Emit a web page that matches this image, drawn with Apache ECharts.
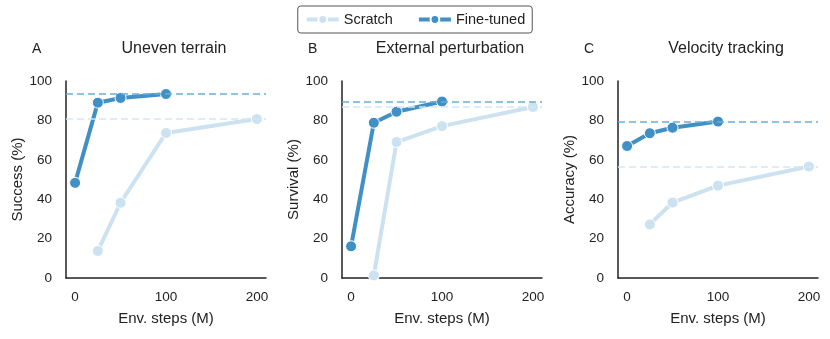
<!DOCTYPE html>
<html>
<head>
<meta charset="utf-8">
<script src="https://cdn.jsdelivr.net/npm/echarts@6/dist/echarts.min.js"></script>
<style>
  html, body { margin: 0; padding: 0; background: #fff; }
  #chart { width: 830px; height: 339px; }
</style>
</head>
<body>
<div id="chart"></div>
<script>
// env steps (M)
var steps = [0, 25, 50, 100, 200];

var panelLetters = ['A', 'B', 'C'];
var panelTitles = ['Uneven terrain', 'External perturbation', 'Velocity tracking'];
var yNames = ['Success (%)', 'Survival (%)', 'Accuracy (%)'];

// scratch: no value at 0
var scratchA = [null, 13.7, 38.2, 73.6, 80.7];
var scratchB = [null, 1.3, 69.0, 77.1, 86.8];
var scratchC = [null, 27.2, 38.3, 46.9, 56.6];
// fine-tuned: runs to 100M
var fineA = [48.3, 89.0, 91.4, 93.4, null];
var fineB = [16.1, 78.8, 84.4, 89.6, null];
var fineC = [67.0, 73.5, 76.3, 79.4, null];

var scratchBest = [80.7, 86.8, 56.6];
var fineBest = [93.4, 89.6, 79.4];

var FINE = '#4090c6';
var FINE_DASH = '#6aaed6';
var SCRATCH = '#cde2f0';
var SCRATCH_DASH = '#d4e6f2';
var FONT = 'Liberation Sans';

var chart = echarts.init(document.getElementById('chart'));

var lefts = [66, 342, 618];
var grids = [], xAxes = [], yAxes = [], series = [], titles = [];
var scratchData = [scratchA, scratchB, scratchC];
var fineData = [fineA, fineB, fineC];

function pairs(vals) {
  var out = [];
  for (var i = 0; i < steps.length; i++) {
    if (vals[i] != null) out.push([steps[i], vals[i]]);
  }
  return out;
}

for (var p = 0; p < 3; p++) {
  grids.push({ left: lefts[p], top: 81, width: 200, height: 197 });
  xAxes.push({
    gridIndex: p, type: 'value', min: -10, max: 210, interval: 100,
    name: 'Env. steps (M)', nameLocation: 'middle', nameGap: 33,
    nameTextStyle: { fontFamily: FONT, fontSize: 15, color: '#222' },
    axisLine: { onZero: false, lineStyle: { color: '#222', width: 1.5 } },
    axisTick: { show: false },
    splitLine: { show: false },
    axisLabel: {
      fontFamily: FONT, fontSize: 13.5, color: '#222', margin: 12,
      customValues: [0, 100, 200]
    }
  });
  yAxes.push({
    gridIndex: p, type: 'value', min: 0, max: 100, interval: 20,
    name: yNames[p], nameLocation: 'middle', nameGap: 39, nameRotate: 90,
    nameTextStyle: { fontFamily: FONT, fontSize: 15, color: '#222' },
    axisLine: { show: true, onZero: false, lineStyle: { color: '#222', width: 1.5 } },
    axisTick: { show: false },
    splitLine: { show: false },
    axisLabel: { fontFamily: FONT, fontSize: 13.5, color: '#222', margin: 14 }
  });
  titles.push({
    text: panelLetters[p], left: lefts[p] - 39, top: 37,
    textStyle: { fontFamily: FONT, fontSize: 14, fontWeight: 'normal', color: '#222' }
  });
  titles.push({
    text: panelTitles[p], left: lefts[p] + 103, top: 36, textAlign: 'center',
    textStyle: { fontFamily: FONT, fontSize: 16, fontWeight: 'normal', color: '#222' }
  });
  series.push({
    name: 'Scratch', type: 'line', xAxisIndex: p, yAxisIndex: p,
    data: pairs(scratchData[p]),
    symbol: 'circle', symbolSize: 11,
    lineStyle: { color: SCRATCH, width: 4 },
    itemStyle: { color: SCRATCH, borderColor: '#fff', borderWidth: 1 },
    z: 2,
    markLine: {
      silent: true, symbol: 'none', label: { show: false },
      lineStyle: { color: SCRATCH_DASH, type: [7, 4], width: 1.5 },
      data: [{ yAxis: scratchBest[p] }]
    }
  });
  series.push({
    name: 'Fine-tuned', type: 'line', xAxisIndex: p, yAxisIndex: p,
    data: pairs(fineData[p]),
    symbol: 'circle', symbolSize: 11,
    lineStyle: { color: FINE, width: 4 },
    itemStyle: { color: FINE, borderColor: '#fff', borderWidth: 1 },
    z: 3,
    markLine: {
      silent: true, symbol: 'none', label: { show: false },
      lineStyle: { color: FINE_DASH, type: [7, 4], width: 1.5 },
      data: [{ yAxis: fineBest[p] }]
    }
  });
}

chart.setOption({
  animation: false,
  title: titles,
  legend: {
    data: ['Scratch', 'Fine-tuned'],
    left: 'center', top: 6,
    padding: [6, 7],
    itemWidth: 32, itemHeight: 11, itemGap: 24,
    lineStyle: { width: 4 },
    borderColor: '#555', borderWidth: 1, borderRadius: 3,
    textStyle: { fontFamily: FONT, fontSize: 14.5, color: '#222' }
  },
  grid: grids,
  xAxis: xAxes,
  yAxis: yAxes,
  series: series
});
</script>
</body>
</html>
